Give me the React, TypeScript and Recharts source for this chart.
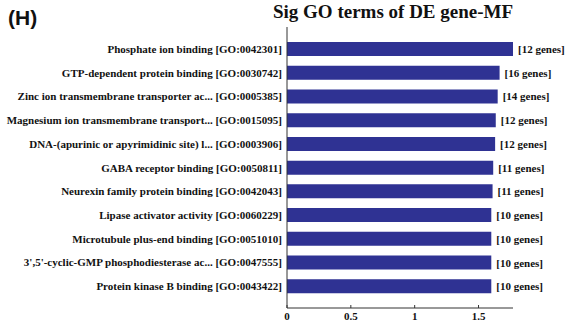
import { BarChart, Bar, XAxis, YAxis, LabelList } from "recharts";

const TERMS = [
    "Phosphate ion binding [GO:0042301]",
    "GTP-dependent protein binding [GO:0030742]",
    "Zinc ion transmembrane transporter ac... [GO:0005385]",
    "Magnesium ion transmembrane transport... [GO:0015095]",
    "DNA-(apurinic or apyrimidinic site) l... [GO:0003906]",
    "GABA receptor binding [GO:0050811]",
    "Neurexin family protein binding [GO:0042043]",
    "Lipase activator activity [GO:0060229]",
    "Microtubule plus-end binding [GO:0051010]",
    "3',5'-cyclic-GMP phosphodiesterase ac... [GO:0047555]",
    "Protein kinase B binding [GO:0043422]",
];

const SCORES = [1.77, 1.665, 1.65, 1.635, 1.63, 1.615, 1.61, 1.6, 1.6, 1.6, 1.6];
const GENES = [12, 16, 14, 12, 12, 11, 11, 10, 10, 10, 10];
const X_TICKS = [0, 0.5, 1, 1.5];

const BAR_COLOR = "#2f3293";
const SERIF = "'Liberation Serif', 'Times New Roman', serif";

const data = TERMS.map((term, i) => ({ term, score: SCORES[i], genes: GENES[i] }));

const XTick = (props: any) => {
    const { x, y, payload } = props;
    return (
        <g>
            <line x1={x} y1={y} x2={x} y2={y - 3} stroke="#333" strokeWidth={1} />
            <text x={x} y={y + 12} textAnchor="middle" fontFamily={SERIF} fontWeight="bold" fontSize={11} fill="#111">
                {payload.value}
            </text>
        </g>
    );
};

const YTick = (props: any) => {
    const { x, y, payload } = props;
    return (
        <text x={x} y={y} dy={4} textAnchor="end" fontFamily={SERIF} fontWeight="bold" fontSize={11} fill="#111">
            {payload.value}
        </text>
    );
};

const GeneLabel = (props: any) => {
    const { x, y, width, height, value } = props;
    return (
        <text x={x + width + 5} y={y + height / 2} dy={4} fontFamily={SERIF} fontWeight="bold" fontSize={11} fill="#111">
            {`[${value} genes]`}
        </text>
    );
};

export default function App() {
    return (
        <div style={{ position: "absolute", left: 0, top: 0, width: 571, height: 322, background: "#fff", overflow: "hidden" }}>
            <div style={{ position: "absolute", left: 8, top: 6, lineHeight: "24px", fontFamily: "'Liberation Sans', Arial, sans-serif", fontWeight: "bold", fontSize: 21, color: "#111" }}>
                (H)
            </div>
            <div style={{ position: "absolute", left: 273, width: 240, top: 0, lineHeight: "24px", textAlign: "center", fontFamily: SERIF, fontWeight: "bold", fontSize: 19, color: "#111", whiteSpace: "nowrap" }}>
                Sig GO terms of DE gene-MF
            </div>
            <BarChart
                width={571}
                height={322}
                data={data}
                layout="vertical"
                margin={{ top: 27, right: 58, left: 0, bottom: 0 }}
                barSize={14}
            >
                <XAxis
                    type="number"
                    domain={[0, 1.77]}
                    ticks={X_TICKS}
                    height={14}
                    tickSize={0}
                    tickMargin={0}
                    tick={<XTick />}
                    axisLine={{ stroke: "#333" }}
                    tickLine={false}
                />
                <YAxis
                    type="category"
                    dataKey="term"
                    width={287}
                    padding={{ top: 10, bottom: 10 }}
                    tickSize={0}
                    tickMargin={5}
                    tickLine={false}
                    axisLine={{ stroke: "#333" }}
                    interval={0}
                    tick={<YTick />}
                />
                <Bar dataKey="score" fill={BAR_COLOR} isAnimationActive={false}>
                    <LabelList dataKey="genes" content={<GeneLabel />} />
                </Bar>
            </BarChart>
        </div>
    );
}
